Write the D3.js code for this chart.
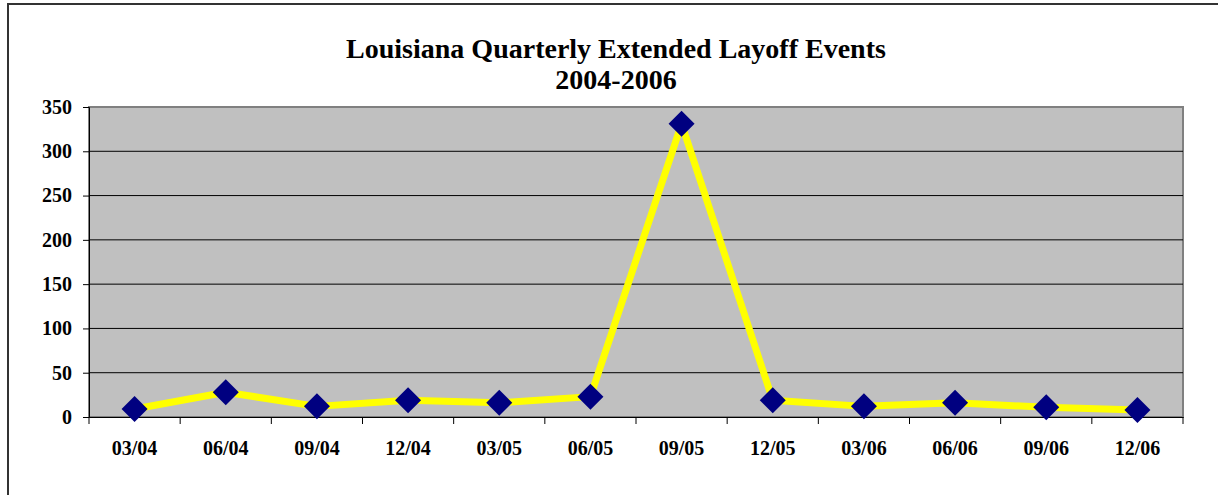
<!DOCTYPE html>
<html lang="en">
<head>
<meta charset="UTF-8">
<title>Louisiana Quarterly Extended Layoff Events</title>
<style>
  body { margin: 0; background: #fff; }
  svg text { font-family: "Liberation Serif", "Times New Roman", serif; font-weight: bold; fill: #000; }
</style>
</head>
<body>
<script src="https://cdn.jsdelivr.net/npm/d3@7"></script>
<script>
const quarters = ["03/04","06/04","09/04","12/04","03/05","06/05","09/05","12/05","03/06","06/06","09/06","12/06"]
const events = [9, 28, 12, 19, 16, 23, 331, 19, 12, 16, 11, 8]
const yTicks = [0, 50, 100, 150, 200, 250, 300, 350]

const width = 1218, height = 495
const margin = {left: 89, right: 35, top: 107, bottom: 78}

const svg = d3.select("body").append("svg")
  .attr("width", width).attr("height", height)

// outer chart frame (runs off the right/bottom edge like the original)
svg.append("rect")
  .attr("x", 8).attr("y", 4).attr("width", 1240).attr("height", 520)
  .attr("fill", "#fff").attr("stroke", "#333").attr("stroke-width", 2)

const x = d3.scaleBand().domain(quarters)
  .range([margin.left, width - margin.right])
const y = d3.scaleLinear().domain([0, 350])
  .range([height - margin.bottom, margin.top])

// plot area
svg.append("rect")
  .attr("x", margin.left).attr("y", margin.top)
  .attr("width", x.range()[1] - margin.left)
  .attr("height", y(0) - margin.top)
  .attr("fill", "#c0c0c0").attr("stroke", "#808080").attr("stroke-width", 2)

// grid
svg.append("g").selectAll("line")
  .data(yTicks.filter(d => d > 0 && d < 350))
  .enter().append("line")
  .attr("x1", margin.left).attr("x2", x.range()[1])
  .attr("y1", d => y(d)).attr("y2", d => y(d))
  .attr("stroke", "#000").attr("stroke-width", 1)

// y axis
const yAxis = svg.append("g")
  .attr("transform", "translate(" + margin.left + ",0)")
  .call(d3.axisLeft(y).tickValues(yTicks).tickSize(6).tickPadding(11))
yAxis.select(".domain").attr("stroke", "#000")
yAxis.selectAll("text").style("font-size", "20px")

// x axis with ticks between categories
const xAxis = svg.append("g")
  .attr("transform", "translate(0," + y(0) + ")")
  .call(d3.axisBottom(x).tickSize(0).tickPadding(24))
xAxis.select(".domain").attr("stroke", "#000")
xAxis.selectAll("text").style("font-size", "20px")
xAxis.selectAll(".sep")
  .data(quarters.concat(["end"]))
  .enter().append("line")
  .attr("x1", (d, i) => i < quarters.length ? x(d) : x.range()[1])
  .attr("x2", (d, i) => i < quarters.length ? x(d) : x.range()[1])
  .attr("y1", 0).attr("y2", 7)
  .attr("stroke", "#000")

// line
const line = d3.line()
  .x((d, i) => x(quarters[i]) + x.bandwidth() / 2)
  .y(d => y(d))
svg.append("path")
  .datum(events)
  .attr("d", line)
  .attr("fill", "none").attr("stroke", "#ffff00").attr("stroke-width", 7)
  .attr("stroke-linejoin", "round")

// diamond markers
svg.append("g").selectAll("path")
  .data(events)
  .enter().append("path")
  .attr("transform", (d, i) => "translate(" + (x(quarters[i]) + x.bandwidth() / 2) + "," + y(d) + ")")
  .attr("d", "M0,-13L13,0L0,13L-13,0Z")
  .attr("fill", "#000080")

// title
const title = svg.append("text")
  .attr("text-anchor", "middle").style("font-size", "28px")
title.append("tspan").attr("x", 616).attr("y", 58).text("Louisiana Quarterly Extended Layoff Events")
title.append("tspan").attr("x", 616).attr("y", 89).text("2004-2006")
</script>
</body>
</html>
